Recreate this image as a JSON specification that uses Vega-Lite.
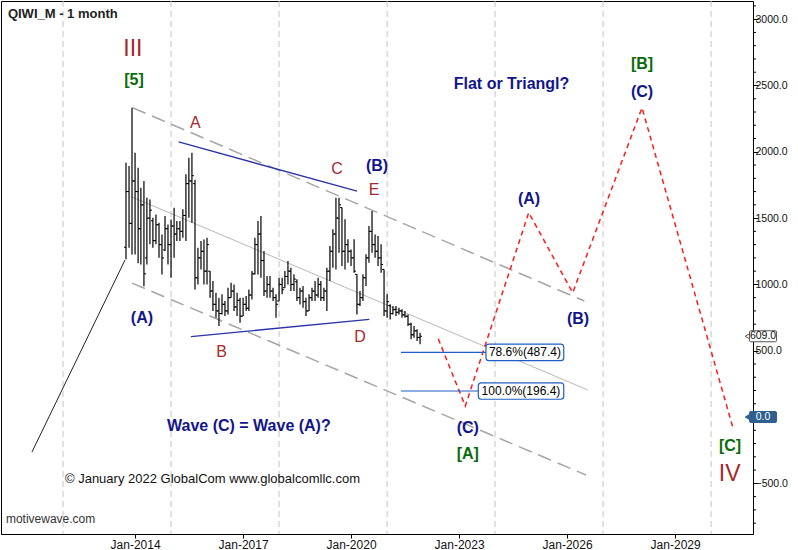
{
 "$schema": "https://vega.github.io/schema/vega-lite/v6.json",
 "width": 752, "height": 533, "padding": 0, "background": "white",
 "config": {
   "view": {"stroke": "black", "strokeWidth": 1},
   "axis": {"domainColor": "black", "tickColor": "black", "labelFont": "Liberation Sans", "labelColor": "#111", "grid": false},
   "text": {"font": "Liberation Sans"}
 },
 "datasets": {
  "ohlc": [
   {"d":"2013-10-01","o":1280,"h":1918,"l":1190,"c":1700},
   {"d":"2013-11-01","o":1700,"h":1892,"l":1277,"c":1460},
   {"d":"2013-12-01","o":1460,"h":2332,"l":1226,"c":1780},
   {"d":"2014-01-01","o":1780,"h":1993,"l":1226,"c":1700},
   {"d":"2014-02-01","o":1700,"h":1880,"l":1160,"c":1420},
   {"d":"2014-03-01","o":1420,"h":1729,"l":1151,"c":1600},
   {"d":"2014-04-01","o":1600,"h":1779,"l":987,"c":1080},
   {"d":"2014-05-01","o":1200,"h":1654,"l":1151,"c":1500},
   {"d":"2014-06-01","o":1500,"h":1641,"l":1302,"c":1560},
   {"d":"2014-07-01","o":1480,"h":1503,"l":1277,"c":1330},
   {"d":"2014-08-01","o":1330,"h":1528,"l":1302,"c":1450},
   {"d":"2014-09-01","o":1450,"h":1465,"l":1201,"c":1300},
   {"d":"2014-10-01","o":1300,"h":1377,"l":1075,"c":1200},
   {"d":"2014-11-01","o":1260,"h":1515,"l":1251,"c":1420},
   {"d":"2014-12-01","o":1420,"h":1452,"l":1151,"c":1300},
   {"d":"2015-01-01","o":1300,"h":1490,"l":1050,"c":1440},
   {"d":"2015-02-01","o":1440,"h":1578,"l":1201,"c":1380},
   {"d":"2015-03-01","o":1380,"h":1478,"l":1327,"c":1420},
   {"d":"2015-04-01","o":1420,"h":1478,"l":1327,"c":1400},
   {"d":"2015-05-01","o":1400,"h":1566,"l":1352,"c":1520},
   {"d":"2015-06-01","o":1520,"h":1830,"l":1327,"c":1760},
   {"d":"2015-07-01","o":1760,"h":1955,"l":1503,"c":1780},
   {"d":"2015-08-01","o":1780,"h":1993,"l":1465,"c":1820},
   {"d":"2015-09-01","o":1760,"h":1790,"l":962,"c":1050},
   {"d":"2015-10-01","o":1050,"h":1277,"l":1000,"c":1200},
   {"d":"2015-11-01","o":1200,"h":1327,"l":1113,"c":1250},
   {"d":"2015-12-01","o":1250,"h":1339,"l":1000,"c":1100},
   {"d":"2016-01-01","o":1100,"h":1352,"l":1000,"c":1300},
   {"d":"2016-02-01","o":1100,"h":1101,"l":900,"c":950},
   {"d":"2016-03-01","o":950,"h":1025,"l":799,"c":850},
   {"d":"2016-04-01","o":850,"h":937,"l":749,"c":800},
   {"d":"2016-05-01","o":800,"h":899,"l":686,"c":780},
   {"d":"2016-06-01","o":780,"h":925,"l":774,"c":850},
   {"d":"2016-07-01","o":850,"h":875,"l":761,"c":800},
   {"d":"2016-08-01","o":800,"h":975,"l":774,"c":900},
   {"d":"2016-09-01","o":900,"h":1013,"l":900,"c":950},
   {"d":"2016-10-01","o":950,"h":1000,"l":799,"c":830},
   {"d":"2016-11-01","o":830,"h":937,"l":761,"c":880},
   {"d":"2016-12-01","o":880,"h":899,"l":711,"c":760},
   {"d":"2017-01-01","o":761,"h":899,"l":761,"c":850},
   {"d":"2017-02-01","o":850,"h":912,"l":799,"c":820},
   {"d":"2017-03-01","o":820,"h":962,"l":799,"c":920},
   {"d":"2017-04-01","o":920,"h":1101,"l":887,"c":1080},
   {"d":"2017-05-01","o":1080,"h":1352,"l":1075,"c":1300},
   {"d":"2017-06-01","o":1300,"h":1478,"l":1075,"c":1380},
   {"d":"2017-07-01","o":1380,"h":1515,"l":1050,"c":1180},
   {"d":"2017-08-01","o":1180,"h":1251,"l":912,"c":950},
   {"d":"2017-09-01","o":950,"h":1063,"l":900,"c":1000},
   {"d":"2017-10-01","o":1000,"h":1063,"l":900,"c":950},
   {"d":"2017-11-01","o":950,"h":975,"l":875,"c":900},
   {"d":"2017-12-01","o":900,"h":925,"l":749,"c":850},
   {"d":"2018-01-01","o":875,"h":1050,"l":875,"c":1000},
   {"d":"2018-02-01","o":1000,"h":1050,"l":925,"c":960},
   {"d":"2018-03-01","o":975,"h":1101,"l":975,"c":1060},
   {"d":"2018-04-01","o":1060,"h":1176,"l":1000,"c":1100},
   {"d":"2018-05-01","o":1100,"h":1126,"l":950,"c":1000},
   {"d":"2018-06-01","o":1000,"h":1076,"l":950,"c":1040},
   {"d":"2018-07-01","o":1020,"h":1038,"l":875,"c":900},
   {"d":"2018-08-01","o":900,"h":975,"l":849,"c":950},
   {"d":"2018-09-01","o":950,"h":988,"l":824,"c":870},
   {"d":"2018-10-01","o":870,"h":900,"l":761,"c":800},
   {"d":"2018-11-01","o":800,"h":925,"l":799,"c":900},
   {"d":"2018-12-01","o":900,"h":975,"l":875,"c":950},
   {"d":"2019-01-01","o":950,"h":1025,"l":875,"c":920},
   {"d":"2019-02-01","o":920,"h":1050,"l":900,"c":1000},
   {"d":"2019-03-01","o":1000,"h":1025,"l":875,"c":900},
   {"d":"2019-04-01","o":900,"h":975,"l":875,"c":950},
   {"d":"2019-05-01","o":950,"h":1126,"l":799,"c":1100},
   {"d":"2019-06-01","o":1100,"h":1290,"l":1025,"c":1250},
   {"d":"2019-07-01","o":1250,"h":1415,"l":1126,"c":1380},
   {"d":"2019-08-01","o":1380,"h":1654,"l":1113,"c":1500},
   {"d":"2019-09-01","o":1500,"h":1654,"l":1239,"c":1600},
   {"d":"2019-10-01","o":1579,"h":1579,"l":1139,"c":1250},
   {"d":"2019-11-01","o":1250,"h":1491,"l":1113,"c":1300},
   {"d":"2019-12-01","o":1300,"h":1340,"l":1164,"c":1250},
   {"d":"2020-01-01","o":1250,"h":1264,"l":1139,"c":1200},
   {"d":"2020-02-01","o":1200,"h":1340,"l":1088,"c":1100},
   {"d":"2020-03-01","o":1076,"h":1076,"l":774,"c":850},
   {"d":"2020-04-01","o":850,"h":950,"l":837,"c":900},
   {"d":"2020-05-01","o":900,"h":1076,"l":875,"c":1050},
   {"d":"2020-06-01","o":1050,"h":1227,"l":988,"c":1200},
   {"d":"2020-07-01","o":1200,"h":1440,"l":1164,"c":1400},
   {"d":"2020-08-01","o":1400,"h":1553,"l":1239,"c":1300},
   {"d":"2020-09-01","o":1300,"h":1377,"l":1201,"c":1250},
   {"d":"2020-10-01","o":1250,"h":1365,"l":1139,"c":1200},
   {"d":"2020-11-01","o":1200,"h":1302,"l":1088,"c":1150},
   {"d":"2020-12-01","o":1113,"h":1113,"l":762,"c":800},
   {"d":"2021-01-01","o":800,"h":925,"l":749,"c":870},
   {"d":"2021-02-01","o":840,"h":850,"l":736,"c":780},
   {"d":"2021-03-01","o":780,"h":837,"l":774,"c":810},
   {"d":"2021-04-01","o":810,"h":837,"l":762,"c":790},
   {"d":"2021-05-01","o":790,"h":824,"l":774,"c":800},
   {"d":"2021-06-01","o":800,"h":812,"l":749,"c":770},
   {"d":"2021-07-01","o":770,"h":799,"l":749,"c":760},
   {"d":"2021-08-01","o":760,"h":774,"l":686,"c":700},
   {"d":"2021-09-01","o":700,"h":711,"l":586,"c":620},
   {"d":"2021-10-01","o":620,"h":686,"l":598,"c":650},
   {"d":"2021-11-01","o":650,"h":661,"l":573,"c":600},
   {"d":"2021-12-01","o":600,"h":636,"l":548,"c":609}
  ],
  "grid": [{"d":"2012-01-01"},{"d":"2015-01-01"},{"d":"2018-01-01"},{"d":"2021-01-01"},{"d":"2024-01-01"},{"d":"2027-01-01"},{"d":"2030-01-01"}],
  "minor": [{"v":-800},{"v":-700},{"v":-600},{"v":-400},{"v":-300},{"v":-200},{"v":-100},{"v":100},{"v":200},{"v":300},{"v":400},{"v":600},{"v":700},{"v":800},{"v":900},{"v":1100},{"v":1200},{"v":1300},{"v":1400},{"v":1600},{"v":1700},{"v":1800},{"v":1900},{"v":2100},{"v":2200},{"v":2300},{"v":2400},{"v":2600},{"v":2700},{"v":2800},{"v":2900},{"v":3100}],
  "channel": [
   {"id":"upper","d":"2013-12-08","v":2332},{"id":"upper","d":"2026-06-25","v":875},
   {"id":"lower","d":"2013-12-01","v":1010},{"id":"lower","d":"2026-07-12","v":-437}
  ],
  "mid": [{"d":"2013-12-01","v":1659},{"d":"2026-07-29","v":204}],
  "triangle": [
   {"id":"top","d":"2015-03-19","v":2074},{"id":"top","d":"2020-03-02","v":1704},
   {"id":"bottom","d":"2015-07-22","v":606},{"id":"bottom","d":"2020-07-04","v":737}
  ],
  "wave": [{"d":"2011-02-20","v":-264},{"d":"2013-09-21","v":1184}],
  "projection": [
   {"d":"2022-06-04","v":590},{"d":"2023-03-05","v":83},{"d":"2024-12-08","v":1541},
   {"d":"2026-02-27","v":937},{"d":"2028-01-31","v":2332},{"d":"2030-08-08","v":-75}
  ],
  "fib": [
   {"lbl":"78.6%(487.4)","v":487.4,"d0":"2021-05-22","d1":"2023-10-01","d2":"2025-11-28","dc":"2024-10-30","lo":425,"hi":549},
   {"lbl":"100.0%(196.4)","v":196.4,"d0":"2021-05-22","d1":"2023-07-15","d2":"2025-11-28","dc":"2024-09-20","lo":134,"hi":258}
  ],
  "labels": [
   {"t":"III","g":"cycle","d":"2013-12-10","v":2722},
   {"t":"IV","g":"cycle","d":"2030-07-08","v":-483},
   {"t":"[5]","g":"primary","d":"2013-12-21","v":2504},
   {"t":"[B]","g":"primary","d":"2028-01-31","v":2624},
   {"t":"[A]","g":"primary","d":"2023-03-30","v":-317},
   {"t":"[C]","g":"primary","d":"2030-07-12","v":-256},
   {"t":"(A)","g":"intermediate","d":"2014-03-12","v":711},
   {"t":"(B)","g":"intermediate","d":"2020-09-21","v":1855},
   {"t":"(C)","g":"intermediate","d":"2023-03-30","v":-121},
   {"t":"(A)","g":"intermediate","d":"2024-12-11","v":1606},
   {"t":"(B)","g":"intermediate","d":"2026-04-22","v":701},
   {"t":"(C)","g":"intermediate","d":"2028-01-31","v":2413},
   {"t":"A","g":"minor","d":"2015-09-05","v":2183},
   {"t":"B","g":"minor","d":"2016-05-27","v":452},
   {"t":"C","g":"minor","d":"2019-08-11","v":1836},
   {"t":"D","g":"minor","d":"2020-04-01","v":562},
   {"t":"E","g":"minor","d":"2020-08-21","v":1674}
  ],
  "notes": [
   {"t":"Flat or Triangl?","d":"2022-11-08","v":2473},
   {"t":"Wave (C) = Wave (A)?","d":"2014-11-21","v":-106}
  ],
  "tags": [{"t":"609.0","g":"last","v":609},{"t":"0.0","g":"zero","v":0}]
 },
 "layer": [
  {"data":{"name":"grid"},"mark":{"type":"rule","stroke":"#c4c4c4","strokeDash":[6,4],"strokeWidth":1},
   "encoding":{"x":{"field":"d","type":"temporal","title":null}}},
  {"data":{"name":"channel"},"mark":{"type":"line","stroke":"#a6a6a6","strokeWidth":1.5,"strokeDash":[14,7]},
   "encoding":{"x":{"field":"d","type":"temporal","title":null},"y":{"field":"v","type":"quantitative","title":null},"detail":{"field":"id"}}},
  {"data":{"name":"mid"},"mark":{"type":"line","stroke":"#b8b8b8","strokeWidth":1},
   "encoding":{"x":{"field":"d","type":"temporal","title":null},"y":{"field":"v","type":"quantitative","title":null}}},
  {"data":{"name":"triangle"},"mark":{"type":"line","stroke":"#2a34a8","strokeWidth":1.3},
   "encoding":{"x":{"field":"d","type":"temporal","title":null},"y":{"field":"v","type":"quantitative","title":null},"detail":{"field":"id"}}},
  {"data":{"name":"wave"},"mark":{"type":"line","stroke":"#222222","strokeWidth":1},
   "encoding":{"x":{"field":"d","type":"temporal","title":null},"y":{"field":"v","type":"quantitative","title":null}}},
  {"data":{"name":"ohlc"},"mark":{"type":"rule","color":"black","strokeWidth":1.2},
   "encoding":{
    "x":{"field":"d","type":"temporal","title":null,
     "scale":{"type":"utc","nice":false,"domain":[{"year":2010,"month":4,"date":12,"utc":true},{"year":2031,"month":3,"date":2,"utc":true}]},
     "axis":{"orient":"bottom","format":"%b-%Y","labelFontSize":12,"tickSize":4,"labelPadding":1,"labelOverlap":false,"labelFlush":false,
      "values":[{"year":2014,"month":1,"date":1,"utc":true},{"year":2017,"month":1,"date":1,"utc":true},{"year":2020,"month":1,"date":1,"utc":true},{"year":2023,"month":1,"date":1,"utc":true},{"year":2026,"month":1,"date":1,"utc":true},{"year":2029,"month":1,"date":1,"utc":true}]}},
    "y":{"field":"l","type":"quantitative","title":null,
     "scale":{"domain":[-882,3137],"nice":false,"zero":false},
     "axis":{"orient":"right","format":".1f","labelFontSize":10.5,"labelPadding":-3,"tickSize":5,"labelOverlap":false,"labelBound":false,"labelFlush":false,
      "values":[-500,500,1000,1500,2000,2500,3000]}},
    "y2":{"field":"h"}}},
  {"data":{"name":"minor"},"mark":{"type":"tick","orient":"horizontal","size":3,"thickness":1,"color":"black","opacity":1},
   "encoding":{"x":{"datum":{"year":2031,"month":3,"date":17,"utc":true},"type":"temporal"},"y":{"field":"v","type":"quantitative","title":null}}},
  {"data":{"name":"ohlc"},"mark":{"type":"tick","orient":"horizontal","size":2,"thickness":1,"color":"black","opacity":1,"xOffset":-1},
   "encoding":{"x":{"field":"d","type":"temporal","title":null},"y":{"field":"o","type":"quantitative","title":null}}},
  {"data":{"name":"ohlc"},"mark":{"type":"tick","orient":"horizontal","size":2,"thickness":1,"color":"black","opacity":1,"xOffset":1},
   "encoding":{"x":{"field":"d","type":"temporal","title":null},"y":{"field":"c","type":"quantitative","title":null}}},
  {"data":{"name":"projection"},"mark":{"type":"line","stroke":"#ff1a1a","strokeWidth":1.5,"strokeDash":[5,4]},
   "encoding":{"x":{"field":"d","type":"temporal","title":null},"y":{"field":"v","type":"quantitative","title":null}}},
  {"data":{"name":"fib"},"mark":{"type":"rule","stroke":"#1f5ec4","strokeWidth":1.2},
   "encoding":{"x":{"field":"d0","type":"temporal","title":null},"x2":{"field":"d1"},"y":{"field":"v","type":"quantitative","title":null}}},
  {"data":{"name":"fib"},"mark":{"type":"rect","fill":"white","stroke":"#1f5ec4","strokeWidth":1.2,"cornerRadius":3},
   "encoding":{"x":{"field":"d1","type":"temporal","title":null},"x2":{"field":"d2"},"y":{"field":"lo","type":"quantitative","title":null},"y2":{"field":"hi"}}},
  {"data":{"name":"fib"},"mark":{"type":"text","fontSize":12,"color":"black","align":"center","baseline":"middle"},
   "encoding":{"x":{"field":"dc","type":"temporal","title":null},"y":{"field":"v","type":"quantitative","title":null},"text":{"field":"lbl"}}},
  {"data":{"name":"labels"},"transform":[{"filter":"datum.g === 'cycle'"}],
   "mark":{"type":"text","fontSize":23,"color":"#a52a2a","align":"center","baseline":"alphabetic"},
   "encoding":{"x":{"field":"d","type":"temporal","title":null},"y":{"field":"v","type":"quantitative","title":null},"text":{"field":"t"}}},
  {"data":{"name":"labels"},"transform":[{"filter":"datum.g === 'primary'"}],
   "mark":{"type":"text","fontSize":16,"fontWeight":"bold","color":"#0b6b0b","align":"center","baseline":"alphabetic"},
   "encoding":{"x":{"field":"d","type":"temporal","title":null},"y":{"field":"v","type":"quantitative","title":null},"text":{"field":"t"}}},
  {"data":{"name":"labels"},"transform":[{"filter":"datum.g === 'intermediate'"}],
   "mark":{"type":"text","fontSize":16,"fontWeight":"bold","color":"#12168c","align":"center","baseline":"alphabetic"},
   "encoding":{"x":{"field":"d","type":"temporal","title":null},"y":{"field":"v","type":"quantitative","title":null},"text":{"field":"t"}}},
  {"data":{"name":"labels"},"transform":[{"filter":"datum.g === 'minor'"}],
   "mark":{"type":"text","fontSize":16,"color":"#a52a2a","align":"center","baseline":"alphabetic"},
   "encoding":{"x":{"field":"d","type":"temporal","title":null},"y":{"field":"v","type":"quantitative","title":null},"text":{"field":"t"}}},
  {"data":{"name":"notes"},
   "mark":{"type":"text","fontSize":16,"fontWeight":"bold","color":"#12168c","align":"left","baseline":"alphabetic"},
   "encoding":{"x":{"field":"d","type":"temporal","title":null},"y":{"field":"v","type":"quantitative","title":null},"text":{"field":"t"}}},
  {"data":{"values":[{"t":"QIWI_M - 1 month","d":"2010-06-21","v":3009}]},
   "mark":{"type":"text","fontSize":13,"fontWeight":"bold","color":"#222222","align":"left","baseline":"alphabetic"},
   "encoding":{"x":{"field":"d","type":"temporal","title":null},"y":{"field":"v","type":"quantitative","title":null},"text":{"field":"t"}}},
  {"data":{"values":[{"t":"© January 2022 GlobalCom www.globalcomllc.com","d":"2012-01-21","v":-498}]},
   "mark":{"type":"text","fontSize":13,"color":"#111111","align":"left","baseline":"alphabetic"},
   "encoding":{"x":{"field":"d","type":"temporal","title":null},"y":{"field":"v","type":"quantitative","title":null},"text":{"field":"t"}}},
  {"data":{"values":[{"t":"motivewave.com","d":"2010-06-01","v":-799}]},
   "mark":{"type":"text","fontSize":12,"color":"#333333","align":"left","baseline":"alphabetic"},
   "encoding":{"x":{"field":"d","type":"temporal","title":null},"y":{"field":"v","type":"quantitative","title":null},"text":{"field":"t"}}},
  {"data":{"name":"tags"},"mark":{"type":"point","shape":"triangle-left","filled":true,"size":45,"opacity":1,"strokeWidth":1},
   "encoding":{"x":{"datum":{"year":2031,"month":1,"date":11,"utc":true},"type":"temporal"},"y":{"field":"v","type":"quantitative","title":null},
    "fill":{"field":"g","type":"nominal","scale":{"domain":["last","zero"],"range":["white","#2f5f8f"]},"legend":null},
    "stroke":{"field":"g","type":"nominal","scale":{"domain":["last","zero"],"range":["#555555","#2f5f8f"]},"legend":null}}},
  {"data":{"name":"tags"},"mark":{"type":"tick","orient":"horizontal","size":27,"thickness":11,"opacity":1,"strokeWidth":1,"cornerRadius":1},
   "encoding":{"x":{"datum":{"year":2031,"month":6,"date":12,"utc":true},"type":"temporal"},"y":{"field":"v","type":"quantitative","title":null},
    "fill":{"field":"g","type":"nominal","legend":null},
    "stroke":{"field":"g","type":"nominal","legend":null}}},
  {"data":{"name":"tags"},"mark":{"type":"text","fontSize":10.5,"align":"center","baseline":"middle"},
   "encoding":{"x":{"datum":{"year":2031,"month":6,"date":12,"utc":true},"type":"temporal"},"y":{"field":"v","type":"quantitative","title":null},"text":{"field":"t"},
    "color":{"field":"g","type":"nominal","scale":{"domain":["last","zero"],"range":["#111111","white"]},"legend":null}}},
  {"data":{"values":[{"b":"frame"}]},"mark":{"type":"rule","color":"black","strokeWidth":2},
   "encoding":{"x":{"datum":{"year":2032,"month":6,"date":11,"utc":true},"type":"temporal"},"y":{"datum":3137,"type":"quantitative"},"y2":{"datum":-1011}}},
  {"data":{"values":[{"b":"frame"}]},"mark":{"type":"rule","color":"black","strokeWidth":2},
   "encoding":{"x":{"datum":{"year":2010,"month":4,"date":12,"utc":true},"type":"temporal"},"x2":{"datum":{"year":2032,"month":6,"date":11,"utc":true}},"y":{"datum":-1011,"type":"quantitative"}}}
 ]
}
